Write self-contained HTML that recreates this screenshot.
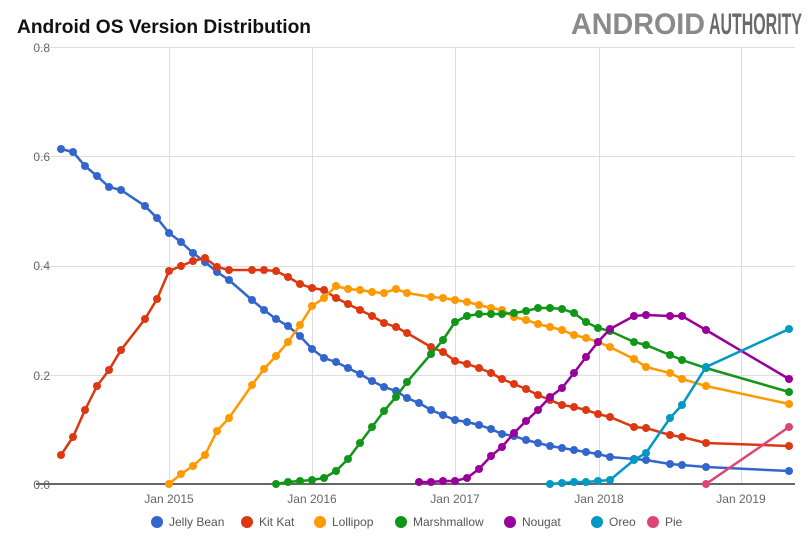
<!DOCTYPE html>
<html><head><meta charset="utf-8"><style>
body{margin:0;background:#fff;width:811px;height:551px;overflow:hidden;font-family:"Liberation Sans",sans-serif}
</style></head><body>
<svg width="811" height="551" xmlns="http://www.w3.org/2000/svg" font-family="Liberation Sans, sans-serif">
<text x="17" y="33" font-size="19" font-weight="bold" fill="#111" textLength="294" lengthAdjust="spacingAndGlyphs">Android OS Version Distribution</text>
<text x="571" y="34" font-size="30" font-weight="bold" fill="#8a8a8a" textLength="134" lengthAdjust="spacingAndGlyphs">ANDROID</text>
<text x="709" y="34" font-size="30" font-weight="bold" fill="#6a6a6a" textLength="93" lengthAdjust="spacingAndGlyphs">AUTHORITY</text>
<g stroke="#ddd" stroke-width="1">
<line x1="36" y1="47.5" x2="795" y2="47.5"/>
<line x1="36" y1="156.5" x2="795" y2="156.5"/>
<line x1="36" y1="266.5" x2="795" y2="266.5"/>
<line x1="36" y1="375.5" x2="795" y2="375.5"/>
<line x1="169.5" y1="47" x2="169.5" y2="484"/>
<line x1="312.5" y1="47" x2="312.5" y2="484"/>
<line x1="455.5" y1="47" x2="455.5" y2="484"/>
<line x1="599.5" y1="47" x2="599.5" y2="484"/>
<line x1="741.5" y1="47" x2="741.5" y2="484"/>
</g>
<line x1="36" y1="484" x2="795" y2="484" stroke="#333" stroke-width="1.5"/>
<g font-size="12" fill="#666" text-anchor="end">
<text x="50" y="52">0.8</text><text x="50" y="161">0.6</text><text x="50" y="270">0.4</text><text x="50" y="380">0.2</text><text x="50" y="489">0.0</text>
</g>
<g font-size="12" fill="#666" text-anchor="middle">
<text x="169" y="503">Jan 2015</text><text x="312" y="503">Jan 2016</text><text x="455" y="503">Jan 2017</text><text x="599" y="503">Jan 2018</text><text x="741" y="503">Jan 2019</text>
</g>
<g id="series"></g>
<g font-size="12" fill="#555">
<circle cx="157" cy="522" r="6" fill="#3366cc"/><text x="169" y="526">Jelly Bean</text>
<circle cx="247" cy="522" r="6" fill="#dc3912"/><text x="259" y="526">Kit Kat</text>
<circle cx="320" cy="522" r="6" fill="#ff9900"/><text x="332" y="526">Lollipop</text>
<circle cx="401" cy="522" r="6" fill="#109618"/><text x="413" y="526">Marshmallow</text>
<circle cx="510" cy="522" r="6" fill="#990099"/><text x="522" y="526">Nougat</text>
<circle cx="597" cy="522" r="6" fill="#0099c6"/><text x="609" y="526">Oreo</text>
<circle cx="653" cy="522" r="6" fill="#dd4477"/><text x="665" y="526">Pie</text>
</g>
</svg>
<script>
var S=[
["#3366cc",[[61,149],[73,152],[85,166],[97,176],[109,187],[121,190],[145,206],[157,218],[169,233],[181,242],[193,253],[205,262],[217,272],[229,280],[252,300],[264,310],[276,319],[288,326],[300,336],[312,349],[324,358],[336,362],[348,368],[360,374],[372,381],[384,387],[396,391],[407,398],[419,403],[431,410],[443,415],[455,420],[467,422],[479,425],[491,429],[502,434],[514,436],[526,440],[538,443],[550,446],[562,448],[574,450],[586,452],[598,454],[610,457],[634,459],[646,460],[670,464],[682,465],[706,467],[789,471]]],
["#dc3912",[[61,455],[73,437],[85,410],[97,386],[109,370],[121,350],[145,319],[157,299],[169,271],[181,266],[193,261],[205,258],[217,267],[229,270],[252,270],[264,270],[276,271],[288,277],[300,284],[312,288],[324,290],[336,298],[348,304],[360,310],[372,316],[384,323],[396,327],[407,333],[431,347],[443,352],[455,361],[467,364],[479,368],[491,373],[502,379],[514,384],[526,389],[538,395],[550,400],[562,405],[574,407],[586,410],[598,414],[610,417],[634,427],[646,428],[670,435],[682,437],[706,443],[789,446]]],
["#ff9900",[[169,484],[181,474],[193,466],[205,455],[217,431],[229,418],[252,385],[264,369],[276,356],[288,342],[300,325],[312,306],[324,298],[336,286],[348,289],[360,290],[372,292],[384,293],[396,289],[407,293],[431,297],[443,298],[455,300],[467,302],[479,305],[491,308],[502,310],[514,317],[526,320],[538,324],[550,327],[562,330],[574,335],[586,338],[598,342],[610,347],[634,359],[646,367],[670,373],[682,379],[706,386],[789,404]]],
["#109618",[[276,484],[288,482],[300,481],[312,480],[324,478],[336,471],[348,459],[360,443],[372,427],[384,411],[396,397],[407,382],[431,354],[443,340],[455,322],[467,316],[479,314],[491,314],[502,314],[514,313],[526,311],[538,308],[550,308],[562,309],[574,313],[586,322],[598,328],[610,331],[634,342],[646,345],[670,355],[682,360],[706,368],[789,392]]],
["#990099",[[419,482],[431,482],[443,481],[455,481],[467,478],[479,469],[491,456],[502,447],[514,433],[526,421],[538,410],[550,397],[562,388],[574,373],[586,357],[598,342],[610,329],[634,316],[646,315],[670,316],[682,316],[706,330],[789,379]]],
["#0099c6",[[550,484],[562,483],[574,482],[586,482],[598,481],[610,480],[634,460],[646,453],[670,418],[682,405],[706,367],[789,329]]],
["#dd4477",[[706,484],[789,427]]]
];
var h="";
S.forEach(function(s){
 h+='<polyline fill="none" stroke="'+s[0]+'" stroke-width="2.5" points="'+s[1].map(function(p){return p.join(",")}).join(" ")+'"/>';
 s[1].forEach(function(p){h+='<circle cx="'+p[0]+'" cy="'+p[1]+'" r="4" fill="'+s[0]+'"/>';});
});
document.getElementById("series").innerHTML=h;
</script>
</body></html>
